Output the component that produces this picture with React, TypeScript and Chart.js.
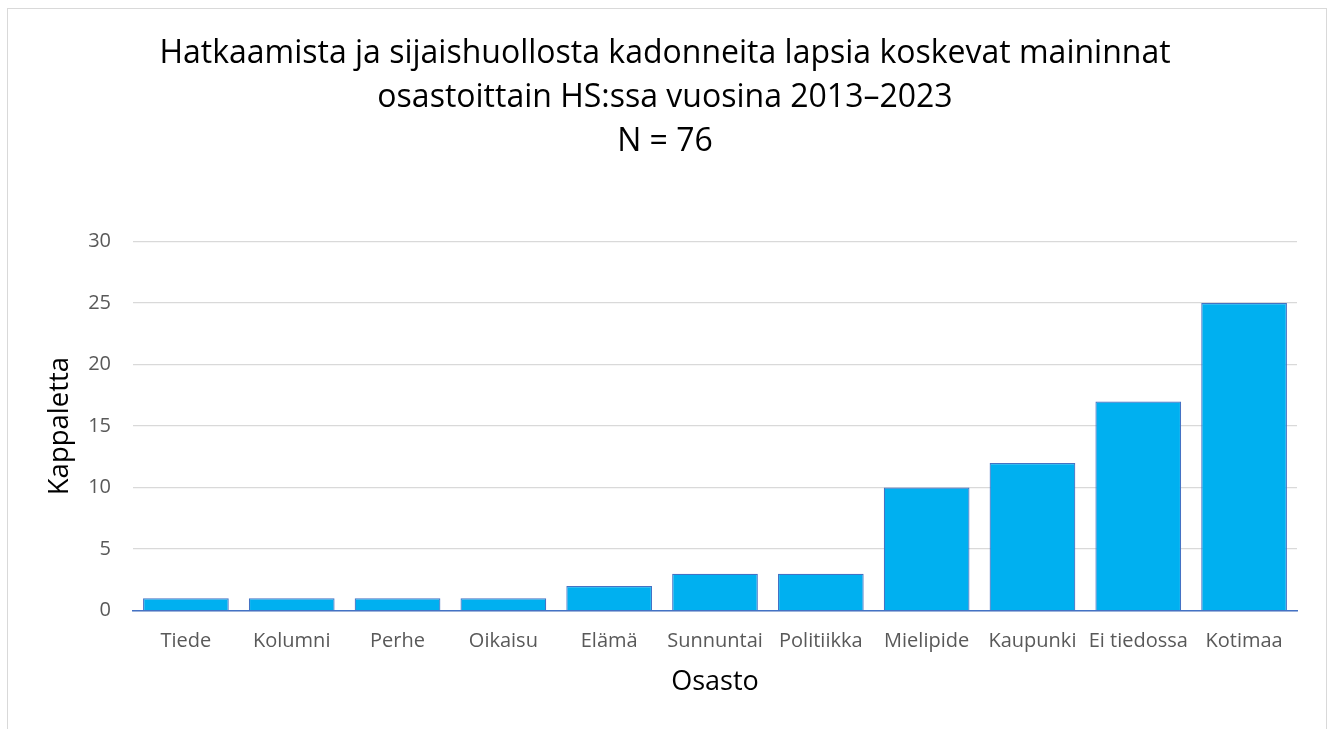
import React, { useEffect, useRef } from "react";
import { Chart, registerables } from "chart.js";

Chart.register(...registerables);

const categories = ["Tiede", "Kolumni", "Perhe", "Oikaisu", "Elämä", "Sunnuntai", "Politiikka", "Mielipide", "Kaupunki", "Ei tiedossa", "Kotimaa"];
const values = [1, 1, 1, 1, 2, 3, 3, 10, 12, 17, 25];
const titleLines = ["Hatkaamista ja sijaishuollosta kadonneita lapsia koskevat maininnat", "osastoittain HS:ssa vuosina 2013–2023", "N = 76"];
const yTitle = "Kappaletta";
const xTitle = "Osasto";

export default function App() {
  const ref = useRef<HTMLCanvasElement>(null);
  useEffect(() => {
    if (!ref.current) return;
    const font = "'Open Sans', 'Noto Sans', sans-serif";
    const chart = new Chart(ref.current, {
      type: "bar",
      data: {
        labels: categories,
        datasets: [
          {
            data: values,
            backgroundColor: "#00B0F0",
            borderColor: "#4472C4",
            borderWidth: 1.2,
            categoryPercentage: 1,
            barPercentage: 0.81,
          },
        ],
      },
      options: {
        animation: false,
        responsive: false,
        layout: { padding: { left: 33, right: 33, top: 11, bottom: 26 } },
        plugins: {
          legend: { display: false },
          tooltip: { enabled: false },
          title: {
            display: true,
            text: titleLines,
            color: "#000",
            font: { family: font, size: 32, weight: "normal", lineHeight: 1.37 },
            padding: { top: 21, bottom: 78 },
          },
        },
        scales: {
          x: {
            grid: { display: false },
            border: { display: true, color: "#4472C4", width: 1.5 },
            ticks: { color: "#595959", font: { family: font, size: 20 }, padding: 11, maxRotation: 0 },
            title: { display: true, text: xTitle, color: "#000", font: { family: font, size: 27 }, padding: { top: 2 } },
          },
          y: {
            min: 0,
            max: 30,
            afterFit: (scale: any) => {
              scale.width = 100;
            },
            ticks: { stepSize: 5, color: "#595959", font: { family: font, size: 20 }, padding: 22 },
            grid: { color: "#d9d9d9", lineWidth: 1.3, drawTicks: false },
            border: { display: false },
            title: { display: true, text: yTitle, color: "#000", font: { family: font, size: 27.5 }, padding: { top: 11, bottom: 0 } },
          },
        },
      },
    });
    return () => chart.destroy();
  }, []);
  return (
    <div style={{ position: "fixed", left: 0, top: 0, width: 1330, height: 729, background: "#fff" }}>
      <div style={{ position: "absolute", left: 7, top: 8, width: 1318, height: 740, border: "1px solid #d9d9d9" }} />
      <canvas ref={ref} width={1330} height={729} style={{ position: "absolute", left: 0, top: 0 }} />
    </div>
  );
}
